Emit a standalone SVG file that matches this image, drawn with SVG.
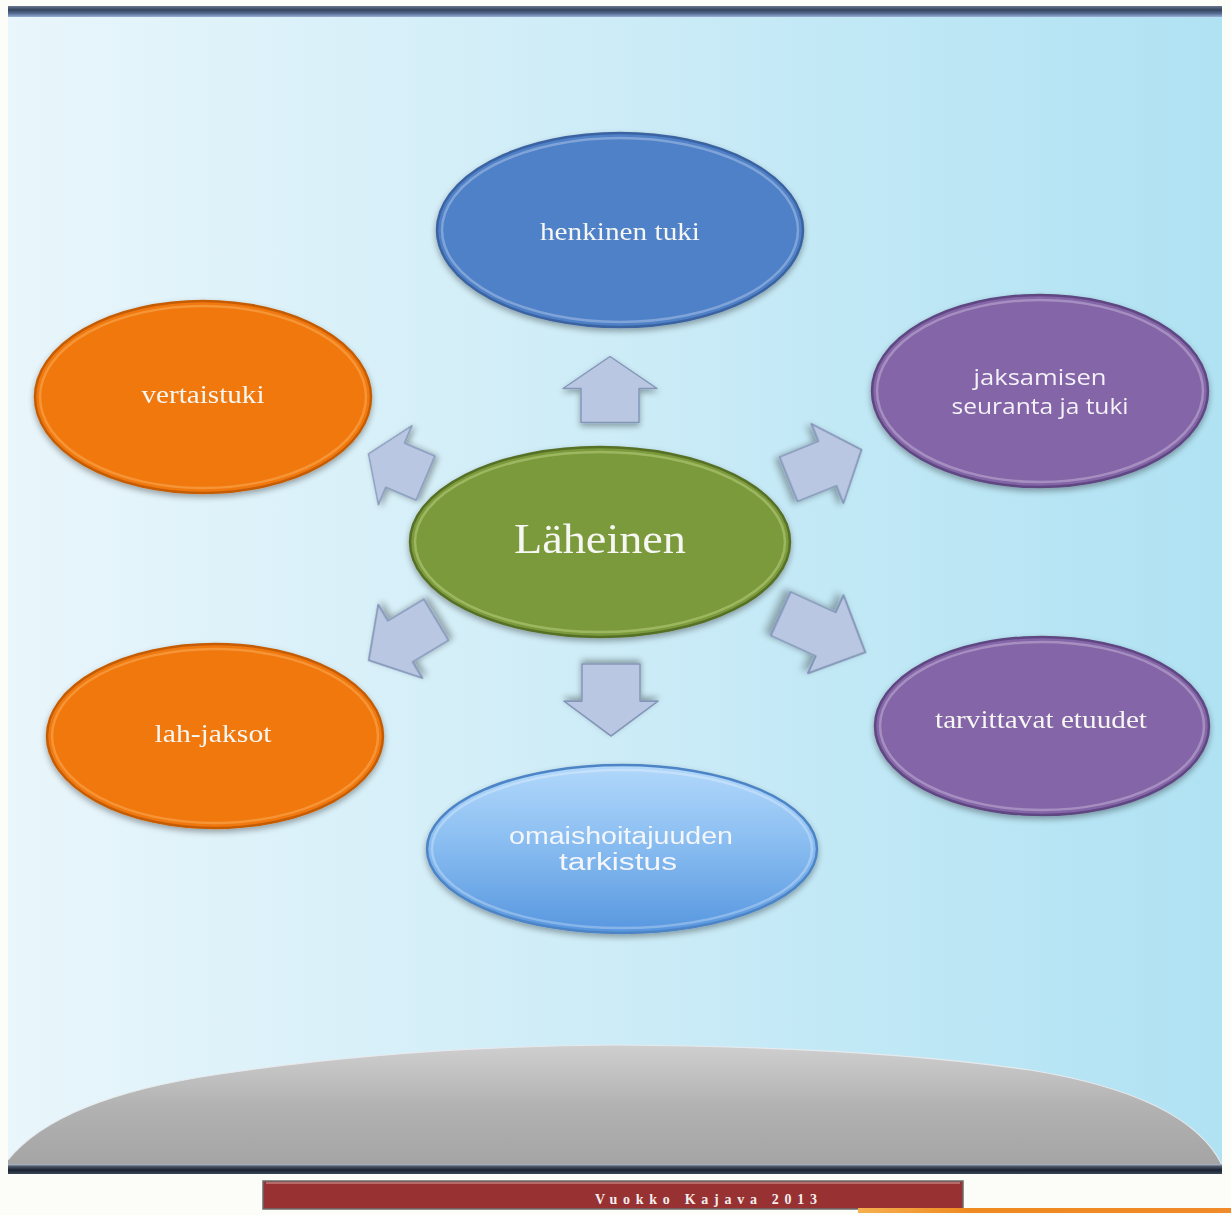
<svg xmlns="http://www.w3.org/2000/svg" width="1231" height="1215" viewBox="0 0 1231 1215">
<defs>
<linearGradient id="bg" x1="0" y1="0" x2="1" y2="0">
<stop offset="0" stop-color="#e9f6fb"/>
<stop offset="1" stop-color="#b0e2f3"/>
</linearGradient>
<linearGradient id="topbar" x1="0" y1="0" x2="0" y2="1">
<stop offset="0" stop-color="#6a7890"/>
<stop offset="0.35" stop-color="#34445e"/>
<stop offset="0.7" stop-color="#5a6f95"/>
<stop offset="1" stop-color="#9ab0d6"/>
</linearGradient>
<linearGradient id="dome" x1="0" y1="0" x2="0" y2="1">
<stop offset="0" stop-color="#cfcfcf"/>
<stop offset="0.5" stop-color="#b2b2b2"/>
<stop offset="1" stop-color="#a4a4a4"/>
</linearGradient>
<linearGradient id="botbar" x1="0" y1="0" x2="0" y2="1">
<stop offset="0" stop-color="#b8c2d2"/>
<stop offset="0.25" stop-color="#4a5568"/>
<stop offset="0.6" stop-color="#1a2230"/>
<stop offset="1" stop-color="#3a4658"/>
</linearGradient>
<linearGradient id="orangeLine" x1="0" y1="0" x2="1" y2="0">
<stop offset="0" stop-color="#f6b050"/>
<stop offset="0.3" stop-color="#ef8a20"/>
<stop offset="1" stop-color="#f08a2a"/>
</linearGradient>
<linearGradient id="lblue" x1="0" y1="0" x2="0" y2="1">
<stop offset="0" stop-color="#b2d8fb"/>
<stop offset="0.5" stop-color="#86bbf0"/>
<stop offset="1" stop-color="#5796df"/>
</linearGradient>
<filter id="sh" x="-10%" y="-10%" width="120%" height="130%">
<feGaussianBlur in="SourceAlpha" stdDeviation="3"/>
<feOffset dx="0" dy="3" result="b"/>
<feComponentTransfer><feFuncA type="linear" slope="0.35"/></feComponentTransfer>
<feMerge><feMergeNode/><feMergeNode in="SourceGraphic"/></feMerge>
</filter>
<path id="arrS" d="M0,-33 L47,-1 L29,-1 L29,33 L-29,33 L-29,-1 L-47,-1 Z"/>
<path id="arrD" d="M0,-31 L43,-2 L24,-2 L24,31 L-24,31 L-24,-2 L-43,-2 Z"/>
</defs>
<style>
.arrow{fill:#b9c7e2;stroke:#8496b8;stroke-width:1.5;stroke-linejoin:round;filter:url(#sh)}
.rim{fill:none;stroke:#ffffff;stroke-opacity:0.28;stroke-width:2.5}
.ser{font-family:"Liberation Serif","Times New Roman",serif;fill:#f6f6f2;text-anchor:middle}
.sans{font-family:"Liberation Sans",Arial,sans-serif;fill:#f4f6fa;text-anchor:middle}
.cal{font-family:"Open Sans","Noto Sans",sans-serif;fill:#f4f2f8;text-anchor:middle}
</style>

<rect x="0" y="0" width="1231" height="1215" fill="#fcfcf8"/>
<rect x="8" y="14" width="1214" height="1156" fill="url(#bg)"/>
<rect x="8" y="6" width="1214" height="11" fill="url(#topbar)"/>

<g id="dome-shape">
<path d="M8,1160 C40,1120 110,1090 220,1074 C340,1056 470,1046 615,1045 C770,1046 920,1054 1030,1070 C1140,1088 1200,1120 1222,1165 L1222,1167 L8,1167 Z" fill="url(#dome)"/>
<path d="M8,1160 C40,1120 110,1090 220,1074 C340,1056 470,1046 615,1045 C770,1046 920,1054 1030,1070 C1140,1088 1200,1120 1222,1165" fill="none" stroke="#e6eaee" stroke-width="1.2"/>
</g>
<rect x="8" y="1164" width="1214" height="10" fill="url(#botbar)"/>

<g id="footer">
<rect x="263" y="1181" width="700" height="28" fill="#983232" stroke="#6b6b6b" stroke-width="1.5"/>
<line x1="266" y1="1183" x2="960" y2="1183" stroke="#d8a0a0" stroke-width="1"/>
<text x="706" y="1204" font-family="'Liberation Serif','Times New Roman',serif" font-size="14" font-weight="bold" fill="#f4eeee" text-anchor="middle" textLength="222" lengthAdjust="spacing">Vuokko Kajava 2013</text>
<rect x="858" y="1208" width="373" height="5" fill="url(#orangeLine)"/>
</g>

<g id="connectors">
<use href="#arrS" class="arrow" transform="translate(610,389.5)"/>
<use href="#arrS" class="arrow" transform="translate(611,700) rotate(180) scale(1,1.09)"/>
<use href="#arrD" class="arrow" transform="translate(397,466) rotate(-67)"/>
<use href="#arrD" class="arrow" transform="translate(825,464.5) rotate(68) scale(1,1.27)"/>
<use href="#arrD" class="arrow" transform="translate(402.5,640) rotate(-121) scale(1,1.27)"/>
<use href="#arrD" class="arrow" transform="translate(823,633) rotate(114.5) scale(1,1.5)"/>
</g>

<g id="node-henkinen" filter="url(#sh)">
<ellipse cx="620" cy="230" rx="183" ry="97" fill="#4f81c8" stroke="#3b63a2" stroke-width="2.5"/>
<ellipse cx="620" cy="230" rx="178" ry="92" class="rim"/>
<text class="ser" x="620" y="240" font-size="25" textLength="160" lengthAdjust="spacingAndGlyphs">henkinen tuki</text>
</g>

<g id="node-vertaistuki" filter="url(#sh)">
<ellipse cx="203" cy="397" rx="168" ry="96" fill="#f07810" stroke="#c55c06" stroke-width="2.5"/>
<ellipse cx="203" cy="397" rx="163" ry="91" fill="none" stroke="#ffc070" stroke-opacity="0.4" stroke-width="2.5"/>
<text class="ser" x="203" y="403" font-size="25" textLength="123" lengthAdjust="spacingAndGlyphs">vertaistuki</text>
</g>

<g id="node-jaksamisen" filter="url(#sh)">
<ellipse cx="1040" cy="391" rx="168" ry="96" fill="#8465a8" stroke="#5f4682" stroke-width="2.5"/>
<ellipse cx="1040" cy="391" rx="163" ry="91" class="rim"/>
<text class="cal" x="1040" y="385" font-size="21" textLength="133" lengthAdjust="spacingAndGlyphs">jaksamisen</text>
<text class="cal" x="1040" y="414" font-size="21" textLength="177" lengthAdjust="spacingAndGlyphs">seuranta ja tuki</text>
</g>

<g id="node-laheinen" filter="url(#sh)">
<ellipse cx="600" cy="542" rx="190" ry="95" fill="#7a9a3b" stroke="#566f26" stroke-width="2.5"/>
<ellipse cx="600" cy="542" rx="185" ry="90" fill="none" stroke="#c8dc90" stroke-opacity="0.45" stroke-width="2.5"/>
<text class="ser" x="600" y="553" font-size="43" textLength="172" lengthAdjust="spacingAndGlyphs">Läheinen</text>
</g>

<g id="node-lahjaksot" filter="url(#sh)">
<ellipse cx="215" cy="736" rx="168" ry="92" fill="#f07810" stroke="#c55c06" stroke-width="2.5"/>
<ellipse cx="215" cy="736" rx="163" ry="87" fill="none" stroke="#ffc070" stroke-opacity="0.4" stroke-width="2.5"/>
<text class="ser" x="213" y="742" font-size="25" textLength="117" lengthAdjust="spacingAndGlyphs">lah-jaksot</text>
</g>

<g id="node-tarvittavat" filter="url(#sh)">
<ellipse cx="1042" cy="726" rx="167" ry="89" fill="#8465a8" stroke="#5f4682" stroke-width="2.5"/>
<ellipse cx="1042" cy="726" rx="162" ry="84" class="rim"/>
<text class="ser" x="1041" y="728" font-size="25" textLength="212" lengthAdjust="spacingAndGlyphs">tarvittavat etuudet</text>
</g>

<g id="node-omaishoitajuuden" filter="url(#sh)">
<ellipse cx="622" cy="849" rx="195" ry="84" fill="url(#lblue)" stroke="#4d84c6" stroke-width="2.5"/>
<ellipse cx="622" cy="849" rx="190" ry="79" class="rim"/>
<text class="sans" x="621" y="844" font-size="23" textLength="224" lengthAdjust="spacingAndGlyphs">omaishoitajuuden</text>
<text class="sans" x="618" y="870" font-size="23" textLength="118" lengthAdjust="spacingAndGlyphs">tarkistus</text>
</g>
</svg>
